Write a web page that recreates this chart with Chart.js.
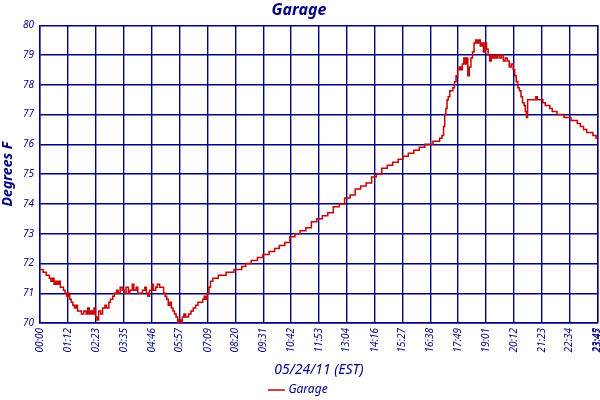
<!DOCTYPE html>
<html>
<head>
<meta charset="utf-8" />
<title>Garage</title>
<script src="https://cdn.jsdelivr.net/npm/chart.js@4.4.0/dist/chart.umd.min.js"></script>
<style>
  html, body { margin: 0; padding: 0; background: #fff; }
  #wrap { width: 600px; height: 400px; }
</style>
</head>
<body>
<div id="wrap"><canvas id="grafico"></canvas></div>
<script>
// minutes after midnight, 05/24/11
var minutos = [
  0, 5, 8, 13, 16, 20, 24, 28, 32, 36, 40, 44, 48, 52, 56, 60, 64, 68, 72, 76,
  80, 84, 88, 92, 96, 100, 106, 112, 118, 122, 126, 130, 134, 138, 142, 146, 150, 155, 160, 166,
  170, 176, 180, 186, 190, 196, 200, 205, 210, 215, 220, 226, 230, 236, 240, 246, 250, 256, 262, 268,
  272, 276, 280, 286, 290, 296, 300, 306, 312, 316, 320, 324, 328, 332, 336, 340, 344, 348, 352, 356,
  360, 364, 368, 372, 376, 380, 386, 392, 398, 404, 410, 416, 420, 424, 428, 432, 436, 442, 450, 456,
  466, 476, 486, 496, 506, 516, 526, 540, 556, 570, 586, 600, 612, 626, 639, 652, 665, 680, 694, 708,
  722, 736, 750, 765, 779, 793, 806, 820, 834, 848, 860, 874, 888, 902, 916, 928, 942, 956, 970, 984,
  997, 1005, 1015, 1022, 1028, 1032, 1035, 1038, 1041, 1044, 1048, 1052, 1056, 1060, 1064, 1068, 1072, 1076, 1080, 1084,
  1088, 1091, 1094, 1098, 1102, 1106, 1110, 1114, 1118, 1122, 1126, 1130, 1134, 1138, 1142, 1146, 1150, 1154, 1158, 1162,
  1166, 1170, 1175, 1180, 1185, 1190, 1195, 1200, 1205, 1210, 1214, 1218, 1222, 1226, 1230, 1234, 1238, 1241, 1244, 1247,
  1260, 1268, 1272, 1280, 1286, 1292, 1298, 1304, 1310, 1316, 1322, 1330, 1340, 1350, 1358, 1366, 1374, 1382, 1390, 1398,
  1406, 1414, 1422, 1427
];
// garage temperature, degrees F
var temperaturas = [
  71.8, 71.8, 71.7, 71.7, 71.6, 71.6, 71.5, 71.4, 71.5, 71.3, 71.4, 71.3, 71.4, 71.2, 71.2, 71.1, 71.0, 70.9, 71.0, 70.8,
  70.7, 70.6, 70.5, 70.6, 70.4, 70.4, 70.3, 70.4, 70.3, 70.5, 70.3, 70.4, 70.3, 70.5, 70.2, 70.1, 70.4, 70.3, 70.5, 70.6,
  70.5, 70.7, 70.8, 70.9, 71.0, 71.1, 71.0, 71.2, 71.1, 71.0, 71.2, 71.0, 71.1, 71.3, 71.1, 71.2, 71.0, 71.0, 71.1, 71.2,
  71.0, 70.9, 71.1, 71.3, 71.1, 71.2, 71.3, 71.2, 71.2, 71.0, 70.9, 70.8, 70.6, 70.7, 70.5, 70.4, 70.3, 70.2, 70.0, 70.1,
  70.0, 70.2, 70.3, 70.2, 70.2, 70.3, 70.4, 70.5, 70.6, 70.7, 70.7, 70.8, 70.9, 70.8, 71.0, 71.2, 71.4, 71.5, 71.5, 71.6,
  71.6, 71.7, 71.7, 71.8, 71.8, 71.9, 72.0, 72.1, 72.2, 72.3, 72.4, 72.5, 72.6, 72.7, 72.9, 73.0, 73.1, 73.2, 73.4, 73.5,
  73.6, 73.7, 73.9, 74.0, 74.2, 74.3, 74.5, 74.6, 74.7, 74.9, 75.0, 75.2, 75.3, 75.4, 75.5, 75.6, 75.7, 75.8, 75.9, 76.0,
  76.0, 76.1, 76.1, 76.2, 76.3, 76.6, 77.0, 77.2, 77.5, 77.6, 77.8, 77.8, 77.9, 78.1, 78.3, 78.5, 78.6, 78.5, 78.7, 78.9,
  78.7, 78.9, 78.3, 78.6, 78.9, 79.1, 79.4, 79.5, 79.4, 79.5, 79.3, 79.4, 79.1, 79.4, 79.2, 79.0, 78.8, 79.0, 78.9, 79.0,
  78.9, 79.0, 78.9, 79.0, 78.8, 78.9, 78.8, 78.6, 78.7, 78.5, 78.3, 78.1, 77.9, 77.8, 77.6, 77.4, 77.3, 77.1, 76.9, 77.5,
  77.5, 77.6, 77.5, 77.5, 77.4, 77.3, 77.3, 77.2, 77.1, 77.1, 77.0, 77.0, 76.9, 76.9, 76.8, 76.8, 76.7, 76.6, 76.5, 76.4,
  76.4, 76.3, 76.2, 76.2
];
var etiquetasX = ['00:00', '01:12', '02:23', '03:35', '04:46', '05:57', '07:09', '08:20', '09:31', '10:42',
  '11:53', '13:04', '14:16', '15:27', '16:38', '17:49', '19:01', '20:12', '21:23', '22:34', '23:45', '23:47'];
var etiquetasY = [70, 71, 72, 73, 74, 75, 76, 77, 78, 79, 80];

var azul = '#000080';
var rojo = '#c80000';
var fuente = '"Noto Sans", "DejaVu Sans", sans-serif';

function aMinutos(s) {
    var p = s.split(':');
    return parseInt(p[0], 10) * 60 + parseInt(p[1], 10);
}

var puntos = minutos.map(function (m, i) { return { x: m, y: temperaturas[i] }; });

var config = {
    type: 'line',
    data: {
        datasets: [{
            label: 'Garage',
            data: puntos,
            borderColor: rojo,
            backgroundColor: rojo,
            borderWidth: 1.5,
            pointRadius: 0,
            stepped: true,
            fill: false
        }]
    },
    options: {
        responsive: true,
        maintainAspectRatio: false,
        animation: false,
        layout: { padding: { left: 0, right: 2, top: 1, bottom: -6 } },
        plugins: {
            title: {
                display: true,
                text: 'Garage',
                color: azul,
                font: { family: fuente, size: 16, weight: 'bold', style: 'italic' },
                padding: { top: 0, bottom: 5 }
            },
            legend: {
                position: 'bottom',
                labels: {
                    color: azul,
                    usePointStyle: true,
                    pointStyle: 'line',
                    boxWidth: 14,
                    padding: 0,
                    font: { family: fuente, size: 12, style: 'italic' }
                }
            },
            tooltip: { enabled: false }
        },
        scales: {
            x: {
                type: 'linear',
                min: 0,
                max: aMinutos(etiquetasX[etiquetasX.length - 1]),
                afterBuildTicks: function (axis) {
                    axis.ticks = etiquetasX.map(function (e) { return { value: aMinutos(e) }; });
                },
                afterFit: function (axis) {
                    axis.height = 61;
                    axis.paddingLeft = 0;
                    axis.paddingRight = 0;
                },
                ticks: {
                    autoSkip: false,
                    minRotation: 90,
                    maxRotation: 90,
                    color: azul,
                    padding: 5,
                    font: { family: fuente, size: 10, style: 'italic' },
                    callback: function (v, i) { return etiquetasX[i]; }
                },
                grid: { color: azul, lineWidth: 1.4, drawTicks: false },
                border: { color: azul, width: 1.4 },
                title: {
                    display: true,
                    text: '05/24/11 (EST)',
                    color: azul,
                    font: { family: fuente, size: 14, style: 'italic' },
                    padding: { top: 4, bottom: 6 }
                }
            },
            y: {
                min: etiquetasY[0],
                max: etiquetasY[etiquetasY.length - 1],
                afterBuildTicks: function (axis) {
                    axis.ticks = etiquetasY.map(function (v) { return { value: v }; });
                },
                afterFit: function (axis) { axis.width = 40; },
                ticks: {
                    color: azul,
                    padding: 6,
                    font: { family: fuente, size: 10, style: 'italic' }
                },
                grid: { color: azul, lineWidth: 1.4, drawTicks: false },
                border: { color: azul, width: 1.4 },
                title: {
                    display: true,
                    text: 'Degrees F',
                    color: azul,
                    font: { family: fuente, size: 14, weight: 'bold', style: 'italic' },
                    padding: { top: 0, bottom: 2 }
                }
            }
        }
    }
};

var ctx = document.getElementById('grafico').getContext('2d');
var grafico = new Chart(ctx, config);
</script>
</body>
</html>
